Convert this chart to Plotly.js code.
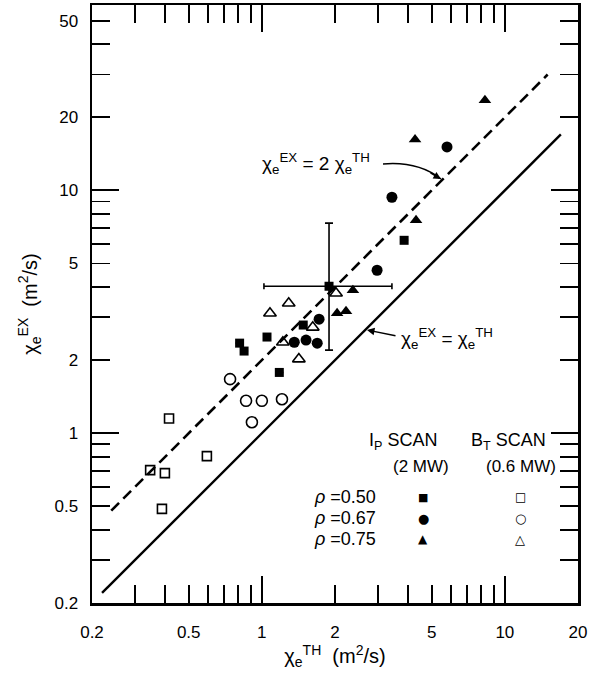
<!DOCTYPE html>
<html><head><meta charset="utf-8">
<script src="https://cdn.plot.ly/plotly-3.0.1.min.js"></script>
<style>html,body{margin:0;padding:0;background:#fff;} #chart{width:596px;height:675px;}</style>
</head><body><div id="chart"></div>
<script>
// ---- tick labels / tick positions ----
const xTickVals = [0.2, 0.5, 1, 2, 5, 10, 20];
const xTickText = ['0.2', '0.5', '1', '2', '5', '10', '20'];
const yTickVals = [0.2, 0.5, 1, 2, 5, 10, 20, 50];
const yTickText = ['0.2', '0.5', '1', '2', '5', '10', '20', '50'];
const xMinorVals = [0.3, 0.4, 0.6, 0.7, 0.8, 0.9, 3, 4, 6, 7, 8, 9];
const yMinorVals = [0.3, 0.4, 0.6, 0.7, 0.8, 0.9, 3, 4, 6, 7, 8, 9, 30, 40];
const decadeVals = [1, 10];

// ---- reference lines ----
const solidLineX = [0.22, 17];
const solidLineY = [0.22, 17];
const dashedLineX = [0.24, 15];
const dashedLineY = [0.48, 30];

// ---- I_P scan (2 MW), filled symbols ----
const ipRho50X = [3.85, 1.89, 1.48, 1.05, 0.81, 0.845, 1.18];
const ipRho50Y = [6.23, 4.03, 2.79, 2.49, 2.35, 2.18, 1.78];
const ipRho50ErrXPlus  = [null, 1.54, null, null, null, null, null];
const ipRho50ErrXMinus = [null, 0.87, null, null, null, null, null];
const ipRho50ErrYPlus  = [null, 3.30, null, null, null, null, null];
const ipRho50ErrYMinus = [null, 1.83, null, null, null, null, null];
const ipRho67X = [5.78, 3.43, 2.98, 1.72, 1.36, 1.52, 1.69];
const ipRho67Y = [15.1, 9.37, 4.69, 2.95, 2.37, 2.42, 2.35];
const ipRho75X = [8.28, 4.27, 4.31, 2.37, 2.04, 2.22];
const ipRho75Y = [23.5, 16.2, 7.54, 3.88, 3.12, 3.18];

// ---- B_T scan (0.6 MW), open symbols ----
const btRho50X = [0.415, 0.594, 0.347, 0.399, 0.388];
const btRho50Y = [1.15, 0.805, 0.705, 0.685, 0.488];
const btRho67X = [0.74, 0.861, 1.00, 1.21, 0.91];
const btRho67Y = [1.67, 1.36, 1.36, 1.38, 1.11];
const btRho75X = [1.29, 1.08, 1.62, 1.22, 1.42, 2.02];
const btRho75Y = [3.43, 3.12, 2.73, 2.37, 2.02, 3.77];

// ---- layout helpers (pixel -> paper) ----
const PL = 92, PR = 578, PT = 5, PB = 603;
const px = v => (v - PL) / (PR - PL);
const py = v => (PB - v) / (PB - PT);

const FONT = 'Liberation Sans, Arial, sans-serif';
const xRange = [Math.log10(0.2), Math.log10(20)];
const yRange = [Math.log10(0.2), Math.log10(58)];

function mk(x, y, symbol, size, lw) {
  return {type: 'scatter', mode: 'markers', x: x, y: y, hoverinfo: 'skip', showlegend: false,
          marker: {symbol: symbol, size: size, color: 'black', line: {color: 'black', width: lw}}};
}

const traces = [
  {type: 'scatter', mode: 'lines', x: solidLineX, y: solidLineY, showlegend: false, hoverinfo: 'skip',
   line: {color: 'black', width: 2.4}},
  {type: 'scatter', mode: 'lines', x: dashedLineX, y: dashedLineY, showlegend: false, hoverinfo: 'skip',
   line: {color: 'black', width: 2.6, dash: '11px,6px'}},
  Object.assign(mk(ipRho50X, ipRho50Y, 'square', 9, 0), {
    error_x: {type: 'data', symmetric: false, array: ipRho50ErrXPlus, arrayminus: ipRho50ErrXMinus,
              color: 'black', thickness: 1.6, width: 3},
    error_y: {type: 'data', symmetric: false, array: ipRho50ErrYPlus, arrayminus: ipRho50ErrYMinus,
              color: 'black', thickness: 1.6, width: 4}
  }),
  mk(ipRho67X, ipRho67Y, 'circle', 11, 0),
  mk(ipRho75X, ipRho75Y, 'triangle-up', 11, 0),
  mk(btRho50X, btRho50Y, 'square-open', 9, 1.6),
  mk(btRho67X, btRho67Y, 'circle-open', 11, 1.6),
  mk(btRho75X, btRho75Y, 'triangle-up-open', 11, 1.6),
  {type: 'scatter', mode: 'markers', x: [], y: [], xaxis: 'x2', yaxis: 'y2', showlegend: false, hoverinfo: 'skip'}
];

const axisCommon = {
  type: 'log', showgrid: false, zeroline: false, showline: true, linecolor: 'black', linewidth: 2.5,
  mirror: 'ticks', ticks: 'inside', ticklen: 18, tickwidth: 1.8, tickcolor: 'black',
  tickfont: {family: FONT, size: 17, color: 'black'}, tickmode: 'array'
};

const layout = {
  width: 596, height: 675,
  margin: {l: PL, r: 596 - PR, t: PT, b: 675 - PB},
  paper_bgcolor: 'white', plot_bgcolor: 'white',
  showlegend: false,
  font: {family: FONT, color: 'black'},
  xaxis: Object.assign({}, axisCommon, {
    range: xRange, tickvals: xTickVals, ticktext: xTickText, ticklabelstandoff: 12,
    minor: {tickmode: 'array', tickvals: xMinorVals, ticks: 'inside', ticklen: 18, tickwidth: 1.8, tickcolor: 'black', showgrid: false},
    title: {text: 'χ<sub>e</sub><sup>TH</sup>  (m<sup>2</sup>/s)', font: {family: FONT, size: 20, color: 'black'}, standoff: 4}
  }),
  yaxis: Object.assign({}, axisCommon, {
    range: yRange, tickvals: yTickVals, ticktext: yTickText, ticklabelstandoff: 8,
    minor: {tickmode: 'array', tickvals: yMinorVals, ticks: 'inside', ticklen: 18, tickwidth: 1.8, tickcolor: 'black', showgrid: false},
    title: {text: 'χ<sub>e</sub><sup>EX</sup>  (m<sup>2</sup>/s)', font: {family: FONT, size: 20, color: 'black'}, standoff: 12}
  }),
  xaxis2: {type: 'log', overlaying: 'x', anchor: 'y', side: 'bottom', range: xRange, showgrid: false, zeroline: false,
           showline: false, tickmode: 'array', tickvals: decadeVals, ticks: 'inside', ticklen: 27, tickwidth: 2,
           tickcolor: 'black', showticklabels: false, mirror: 'ticks'},
  yaxis2: {type: 'log', overlaying: 'y', anchor: 'x', side: 'left', range: yRange, showgrid: false, zeroline: false,
           showline: false, tickmode: 'array', tickvals: decadeVals, ticks: 'inside', ticklen: 27, tickwidth: 2,
           tickcolor: 'black', showticklabels: false, mirror: 'ticks'},
  shapes: [
    {type: 'path', xref: 'paper', yref: 'paper', line: {color: 'black', width: 1.5},
     path: `M ${px(383)} ${py(164)} Q ${px(418)} ${py(161)} ${px(441)} ${py(179)}`}
  ],
  annotations: [
    {xref: 'paper', yref: 'paper', x: px(260), y: py(163), xanchor: 'left', yanchor: 'middle', showarrow: false,
     text: 'χ<sub>e</sub><sup>EX</sup> = 2 χ<sub>e</sub><sup>TH</sup>', font: {family: FONT, size: 19, color: 'black'}},
    {xref: 'paper', yref: 'paper', x: px(441), y: py(179), ax: -12, ay: -7, showarrow: true,
     arrowhead: 2, arrowsize: 1, arrowwidth: 1.5, arrowcolor: 'black', text: ''},
    {xref: 'paper', yref: 'paper', x: px(399), y: py(338), xanchor: 'left', yanchor: 'middle', showarrow: false,
     text: 'χ<sub>e</sub><sup>EX</sup> = χ<sub>e</sub><sup>TH</sup>', font: {family: FONT, size: 19, color: 'black'}},
    {xref: 'paper', yref: 'paper', x: px(367), y: py(330), ax: 30, ay: 6, showarrow: true,
     arrowhead: 2, arrowsize: 1, arrowwidth: 1.5, arrowcolor: 'black', text: ''},
    // legend block
    {xref: 'paper', yref: 'paper', x: px(367), y: py(441), xanchor: 'left', yanchor: 'middle', showarrow: false,
     text: 'I<sub>P</sub> SCAN', font: {family: FONT, size: 18, color: 'black'}},
    {xref: 'paper', yref: 'paper', x: px(469), y: py(441), xanchor: 'left', yanchor: 'middle', showarrow: false,
     text: 'B<sub>T</sub> SCAN', font: {family: FONT, size: 18, color: 'black'}},
    {xref: 'paper', yref: 'paper', x: px(421), y: py(466), xanchor: 'center', yanchor: 'middle', showarrow: false,
     text: '(2 MW)', font: {family: FONT, size: 17, color: 'black'}},
    {xref: 'paper', yref: 'paper', x: px(521), y: py(466), xanchor: 'center', yanchor: 'middle', showarrow: false,
     text: '(0.6 MW)', font: {family: FONT, size: 17, color: 'black'}},
    {xref: 'paper', yref: 'paper', x: px(312), y: py(497), xanchor: 'left', yanchor: 'middle', showarrow: false,
     text: '<i>ρ</i> =0.50', font: {family: FONT, size: 18, color: 'black'}},
    {xref: 'paper', yref: 'paper', x: px(312), y: py(518), xanchor: 'left', yanchor: 'middle', showarrow: false,
     text: '<i>ρ</i> =0.67', font: {family: FONT, size: 18, color: 'black'}},
    {xref: 'paper', yref: 'paper', x: px(312), y: py(539), xanchor: 'left', yanchor: 'middle', showarrow: false,
     text: '<i>ρ</i> =0.75', font: {family: FONT, size: 18, color: 'black'}},
    {xref: 'paper', yref: 'paper', x: px(423), y: py(497), xanchor: 'center', yanchor: 'middle', showarrow: false,
     text: '■', font: {family: 'DejaVu Sans', size: 11, color: 'black'}},
    {xref: 'paper', yref: 'paper', x: px(423), y: py(518), xanchor: 'center', yanchor: 'middle', showarrow: false,
     text: '●', font: {family: 'DejaVu Sans', size: 13, color: 'black'}},
    {xref: 'paper', yref: 'paper', x: px(423), y: py(539), xanchor: 'center', yanchor: 'middle', showarrow: false,
     text: '▲', font: {family: 'DejaVu Sans', size: 12, color: 'black'}},
    {xref: 'paper', yref: 'paper', x: px(520), y: py(497), xanchor: 'center', yanchor: 'middle', showarrow: false,
     text: '□', font: {family: 'DejaVu Sans', size: 12, color: 'black'}},
    {xref: 'paper', yref: 'paper', x: px(520), y: py(518), xanchor: 'center', yanchor: 'middle', showarrow: false,
     text: '○', font: {family: 'DejaVu Sans', size: 13, color: 'black'}},
    {xref: 'paper', yref: 'paper', x: px(520), y: py(539), xanchor: 'center', yanchor: 'middle', showarrow: false,
     text: '△', font: {family: 'DejaVu Sans', size: 13, color: 'black'}}
  ]
};

Plotly.newPlot('chart', traces, layout, {staticPlot: true, displayModeBar: false});
</script>
</body></html>
